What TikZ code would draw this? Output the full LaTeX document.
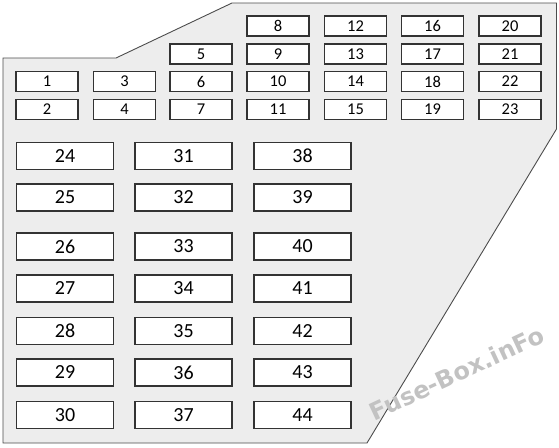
\documentclass[tikz,border=0pt]{standalone}
\usepackage{fontspec}
\setmainfont{Carlito}
\newfontfamily\wmfont{DejaVu Sans}
\begin{document}
\begin{tikzpicture}[x=1pt,y=-1pt,
  fuse/.style={draw=black!80,line width=1.6pt,fill=white,minimum width=62pt,minimum height=20pt,inner sep=0pt,font=\fontsize{16.5}{17}\selectfont},
  bigfuse/.style={draw=black!80,line width=1.6pt,fill=white,minimum width=97pt,minimum height=27pt,inner sep=0pt,font=\fontsize{20}{21}\selectfont},
  panel/.style={draw=black!70,line width=0.9pt,fill=black!7}]
\useasboundingbox (0,0) rectangle (559,447);
\draw[panel] (3,58) -- (116,58) -- (232,3) -- (556.5,3) -- (556.5,129) -- (367,443) -- (3,443) -- cycle;
% small fuses
\foreach \n/\x/\y in {1/47/81.5,2/47/109.5,3/124.5/81.5,4/124.5/109.5,
  5/201/54,6/201/81.5,7/201/109.5,
  8/278/26,9/278/54,10/278/81.5,11/278/109.5,
  12/355.5/26,13/355.5/54,14/355.5/81.5,15/355.5/109.5,
  16/432.5/26,17/432.5/54,18/432.5/81.5,19/432.5/109.5,
  20/510/26,21/510/54,22/510/81.5,23/510/109.5}
  \node[fuse] (f\n) at (\x,\y) {\n};
% large fuses
\foreach \n/\x/\y in {24/65/156,25/65/197.5,26/65/246.5,27/65/288.5,28/65/331,29/65/372.5,30/65/415,
  31/183.5/156,32/183.5/197.5,33/183.5/246.5,34/183.5/288.5,35/183.5/331,36/183.5/372.5,37/183.5/415,
  38/302.5/156,39/302.5/197.5,40/302.5/246.5,41/302.5/288.5,42/302.5/331,43/302.5/372.5,44/302.5/415}
  \node[bigfuse] (f\n) at (\x,\y) {\n};
% watermark
\node[text=black!24,rotate=25,font=\wmfont\bfseries\fontsize{24}{24}\selectfont] (wm) at (457,373) {Fuse-Box.inFo};
\end{tikzpicture}
\end{document}
